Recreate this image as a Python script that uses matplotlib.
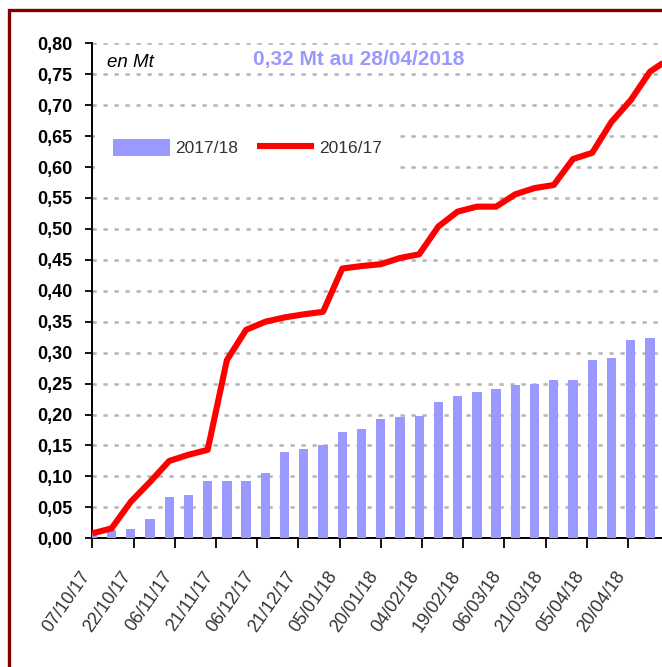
import matplotlib
matplotlib.use("Agg")
import matplotlib.pyplot as plt
import matplotlib.dates as mdates
import matplotlib.transforms as mtransforms
from matplotlib.patches import Rectangle
from datetime import datetime

# ---------------- data ----------------
bar_dates = ["07/10/17", "14/10/17", "21/10/17", "28/10/17", "04/11/17", "11/11/17",
             "18/11/17", "25/11/17", "02/12/17", "09/12/17", "16/12/17", "23/12/17",
             "30/12/17", "06/01/18", "13/01/18", "20/01/18", "27/01/18", "03/02/18",
             "10/02/18", "17/02/18", "24/02/18", "03/03/18", "10/03/18", "17/03/18",
             "24/03/18", "31/03/18", "07/04/18", "14/04/18", "21/04/18", "28/04/18"]
bar_values = [0.011, 0.013, 0.015, 0.032, 0.066, 0.070, 0.093, 0.093, 0.093, 0.105,
              0.140, 0.144, 0.150, 0.172, 0.176, 0.192, 0.196, 0.198, 0.221, 0.230,
              0.237, 0.241, 0.247, 0.250, 0.256, 0.256, 0.288, 0.292, 0.320, 0.323]

line_dates = bar_dates + ["05/05/18"]
line_values = [0.008, 0.016, 0.059, 0.091, 0.125, 0.135, 0.143, 0.288, 0.337, 0.350,
               0.357, 0.362, 0.366, 0.436, 0.440, 0.443, 0.453, 0.459, 0.504, 0.528,
               0.536, 0.536, 0.556, 0.566, 0.571, 0.613, 0.623, 0.673, 0.708, 0.754,
               0.775]

tick_labels = ["07/10/17", "22/10/17", "06/11/17", "21/11/17", "06/12/17", "21/12/17",
               "05/01/18", "20/01/18", "04/02/18", "19/02/18", "06/03/18", "21/03/18",
               "05/04/18", "20/04/18"]

series_names = ["2017/18", "2016/17"]
unit_text = "en Mt"
headline = "0,32 Mt au 28/04/2018"


def parse(s):
    return datetime.strptime(s, "%d/%m/%y")


bx = [parse(d) for d in bar_dates]
lx = [parse(d) for d in line_dates]
tx = [parse(d) for d in tick_labels]

# ---------------- figure ----------------
W, H = 662, 667
fig = plt.figure(figsize=(W / 100, H / 100), dpi=100)
fig.patch.set_facecolor("white")

ax_left, ax_right = 92.3, 662.0
ax_top, ax_bottom = 43.3, 538.3
ax = fig.add_axes([ax_left / W, 1 - ax_bottom / H,
                   (ax_right - ax_left) / W, (ax_bottom - ax_top) / H])

bar_color = "#9999ff"
line_color = "#ff0000"

regular = ["Liberation Sans", "DejaVu Sans"]

bars = ax.bar(bx, bar_values, width=3.4, color=bar_color, zorder=3,
              label=series_names[0], linewidth=0)
line, = ax.plot(lx, line_values, color=line_color, lw=4.4, zorder=4,
                solid_joinstyle="round", solid_capstyle="butt",
                label=series_names[1])

x0 = mdates.date2num(parse("07/10/17"))
ax.set_xlim(x0, x0 + 207.4)
ax.set_ylim(0, 0.80)

yt = [i * 0.05 for i in range(17)]
ax.set_yticks(yt)
ax.set_yticklabels([f"{v:.2f}".replace(".", ",") for v in yt],
                   fontfamily=regular, fontweight="bold", fontsize=13)
ax.tick_params(axis="y", direction="out", length=5, width=1.3, pad=9, colors="black")

ax.set_xticks(tx)
ax.set_xticklabels(tick_labels, rotation=55, ha="right", va="center",
                   rotation_mode="anchor", fontfamily=regular, fontsize=13,
                   color="#333333")
ax.tick_params(axis="x", direction="out", length=7, width=1.3, pad=18)
shift = mtransforms.ScaledTranslation(-6 / 100, 0, fig.dpi_scale_trans)
for lab in ax.get_xticklabels():
    lab.set_transform(lab.get_transform() + shift)

for s in ["top", "right"]:
    ax.spines[s].set_visible(False)
for s in ["left", "bottom"]:
    ax.spines[s].set_linewidth(1.4)
    ax.spines[s].set_color("black")

ax.set_axisbelow(True)
ax.yaxis.grid(True, color="#b4b4b4", linewidth=1.8, linestyle=(0, (1.7, 2.7)))
ax.xaxis.grid(False)

ax.text(0.026, 0.962, unit_text, transform=ax.transAxes, ha="left", va="center",
        fontsize=13.5, fontstyle="italic", fontfamily=regular, color="black")
ax.text(0.468, 0.967, headline, transform=ax.transAxes, ha="center", va="center",
        fontsize=15, fontweight="bold", fontfamily=regular, color=bar_color)

leg = ax.legend(handles=[bars, line], labels=series_names,
                loc="center left", bbox_to_anchor=(-0.01, 0.79), ncol=2,
                frameon=True, fancybox=False, framealpha=1, edgecolor="none",
                facecolor="white", handlelength=3.3, handleheight=1.15,
                handletextpad=0.3, columnspacing=1.1, borderpad=1.0,
                prop={"family": regular, "size": 12.5})
for t in leg.get_texts():
    t.set_color("#333333")
leg.set_zorder(5)

# outer dark-red frame (cropped at right and bottom)
fig.patches.append(Rectangle((8.5 / W, -0.05), 1.2, 1 - 10 / H + 0.05,
                             transform=fig.transFigure, fill=False,
                             edgecolor="#800000", linewidth=2.4, zorder=10))

fig.savefig("out.png", dpi=100)
